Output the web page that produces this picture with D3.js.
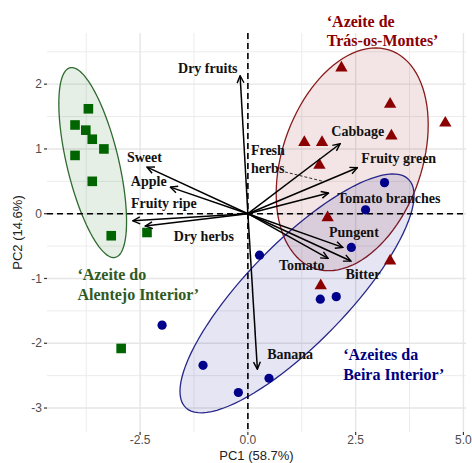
<html>
<head>
    <script src="https://d3js.org/d3.v7.min.js" charset="utf-8"></script>
    <style>
        body { margin: 0; background: #fff; }
    </style>
</head>

<body>
    <script type="text/javascript">
        var width = 472;
        var height = 463;

        var margin = {
            top: 33,
            right: 6,
            bottom: 31,
            left: 47
        };

        // PCA scores (PC1, PC2) per region
        var alentejoScores = [
            [-3.70, 1.62], [-4.01, 1.37], [-3.76, 1.29], [-3.61, 1.15], [-3.34, 1.00],
            [-4.01, 0.90], [-3.61, 0.50], [-3.17, -0.34], [-2.34, -0.29], [-2.94, -2.08]
        ];
        var beiraScores = [
            [3.17, 0.48], [2.73, 0.06], [2.40, -0.52], [0.27, -0.64], [1.68, -1.32],
            [2.05, -1.28], [-1.99, -1.72], [-1.04, -2.34], [0.49, -2.54], [-0.22, -2.76]
        ];
        var trasScores = [
            [2.17, 2.25], [3.30, 1.69], [4.58, 1.40], [3.33, 1.20], [1.31, 1.10],
            [1.72, 1.10], [1.66, 0.75], [1.85, -0.06], [3.30, -0.73], [1.69, -1.11]
        ];

        // group ellipses (Tras-os-Montes, Beira, Alentejo): centre, sd and correlation
        var ellipseMeanPC1 = [2.42, 1.14, -3.60];
        var ellipseMeanPC2 = [0.84, -1.23, 0.79];
        var ellipseSdPC1 = [1.095, 1.686, 0.488];
        var ellipseSdPC2 = [1.068, 1.145, 0.911];
        var ellipseRho = [0.31, 0.82, -0.62];
        var ellipseLevel = 0.68;

        // sensory attribute loadings (arrow tips)
        var attributes = ["Dry fruits", "Sweet", "Apple", "Fruity ripe", "Dry herbs", "Banana",
            "Cabbage", "Fruity green", "Tomato branches", "Pungent", "Bitter", "Tomato"];
        var loadPC1 = [-0.18, -2.34, -1.80, -2.67, -2.38, 0.22, 2.14, 2.54, 1.87, 2.20, 2.39, 1.86];
        var loadPC2 = [2.13, 0.72, 0.41, -0.11, -0.19, -2.40, 1.08, 0.71, 0.32, -0.52, -0.73, -0.69];

        // label centres for the attributes
        var labelPC1 = [-0.93, -2.40, -2.30, -1.95, -1.02, 0.98, 2.55, 3.50, 3.27, 2.46, 2.67, 1.25];
        var labelPC2 = [2.25, 0.87, 0.50, 0.16, -0.35, -2.16, 1.27, 0.86, 0.24, -0.28, -0.93, -0.79];

        // region labels (left aligned, first baseline)
        var regionLabels = [
            ["\u2018Azeite de", "Tr\u00e1s-os-Montes\u2019"],
            ["\u2018Azeites da", "Beira Interior\u2019"],
            ["\u2018Azeite do", "Alentejo Interior\u2019"]
        ];
        var regionLabelPC1 = [1.83, 2.21, -3.955];
        var regionLabelPC2 = [2.886, -2.264, -1.03];
        var regionColors = ["#8b0000", "#00007f", "#2f5a1f"];

        var xTicks = [-2.5, 0, 2.5, 5];
        var yTicks = [-3, -2, -1, 0, 1, 2];
        var xMinor = [-3.75, -1.25, 1.25, 3.75];
        var yMinor = [-2.5, -1.5, -0.5, 0.5, 1.5, 2.5];

        const svg = d3.select("body").append("svg")
            .attr("width", width)
            .attr("height", height);

        var xScale = d3.scaleLinear()
            .domain([-4.66, 5.06])
            .range([margin.left, width - margin.right]);

        var yScale = d3.scaleLinear()
            .domain([-3.37, 2.79])
            .range([height - margin.bottom, margin.top]);

        var x0 = margin.left, x1 = width - margin.right;
        var y0 = margin.top, y1 = height - margin.bottom;

        // grid
        var grid = svg.append("g");
        grid.selectAll(".vminor").data(xMinor).join("line")
            .attr("x1", d => xScale(d)).attr("x2", d => xScale(d))
            .attr("y1", y0).attr("y2", y1)
            .attr("stroke", "#ececec").attr("stroke-width", 1);
        grid.selectAll(".hminor").data(yMinor).join("line")
            .attr("y1", d => yScale(d)).attr("y2", d => yScale(d))
            .attr("x1", x0).attr("x2", x1)
            .attr("stroke", "#ececec").attr("stroke-width", 1);
        grid.selectAll(".vmajor").data(xTicks).join("line")
            .attr("x1", d => xScale(d)).attr("x2", d => xScale(d))
            .attr("y1", y0).attr("y2", y1)
            .attr("stroke", "#e6e6e6").attr("stroke-width", 1.4);
        grid.selectAll(".hmajor").data(yTicks).join("line")
            .attr("y1", d => yScale(d)).attr("y2", d => yScale(d))
            .attr("x1", x0).attr("x2", x1)
            .attr("stroke", "#e6e6e6").attr("stroke-width", 1.4);

        // normal ellipse at the given level (F quantile, n = 10)
        function ellipsePoints(i) {
            var d = 9;
            var qf = d / 2 * (Math.pow(1 - ellipseLevel, -2 / d) - 1);
            var radius = Math.sqrt(2 * qf);
            var sx = ellipseSdPC1[i], sy = ellipseSdPC2[i], r = ellipseRho[i];
            // cholesky of the covariance matrix
            var r11 = sx, r12 = r * sy, r22 = sy * Math.sqrt(1 - r * r);
            return d3.range(0, 101).map(k => {
                var t = k * 2 * Math.PI / 100;
                return [ellipseMeanPC1[i] + radius * Math.cos(t) * r11,
                        ellipseMeanPC2[i] + radius * (Math.cos(t) * r12 + Math.sin(t) * r22)];
            });
        }

        var ellipseFill = ["#8b0000", "#00008b", "#006400"];
        var ellipseStroke = ["#8b1a1a", "#27278a", "#2f6a2f"];

        var line = d3.line().x(d => xScale(d[0])).y(d => yScale(d[1]));

        svg.append("g").selectAll("path")
            .data(ellipseFill)
            .join("path")
                .attr("d", (d, i) => line(ellipsePoints(i)) + "Z")
                .attr("fill", d => d)
                .attr("fill-opacity", 0.1)
                .attr("stroke", (d, i) => ellipseStroke[i])
                .attr("stroke-width", 1.3);

        // zero lines
        svg.append("line")
            .attr("x1", x0).attr("x2", x1)
            .attr("y1", yScale(0)).attr("y2", yScale(0))
            .attr("stroke", "#000").attr("stroke-width", 1.6)
            .attr("stroke-dasharray", "6,4");
        svg.append("line")
            .attr("x1", xScale(0)).attr("x2", xScale(0))
            .attr("y1", y0).attr("y2", y1)
            .attr("stroke", "#000").attr("stroke-width", 1.6)
            .attr("stroke-dasharray", "6,4");

        // points
        var pts = svg.append("g");
        pts.selectAll(".sq").data(alentejoScores).join("rect")
            .attr("x", d => xScale(d[0]) - 4.8)
            .attr("y", d => yScale(d[1]) - 4.8)
            .attr("width", 9.6).attr("height", 9.6)
            .attr("fill", "#006400");
        pts.selectAll(".ci").data(beiraScores).join("circle")
            .attr("cx", d => xScale(d[0]))
            .attr("cy", d => yScale(d[1]))
            .attr("r", 4.6)
            .attr("fill", "#00008b");
        pts.selectAll(".tr").data(trasScores).join("path")
            .attr("d", d3.symbol(d3.symbolTriangle, 66))
            .attr("transform", d => "translate(" + xScale(d[0]) + "," + yScale(d[1]) + ")")
            .attr("fill", "#8b0000");

        // arrows
        svg.append("defs").append("marker")
            .attr("id", "head")
            .attr("viewBox", "0 0 10 10")
            .attr("refX", 9).attr("refY", 5)
            .attr("markerWidth", 9).attr("markerHeight", 9)
            .attr("markerUnits", "userSpaceOnUse")
            .attr("orient", "auto")
            .append("path")
                .attr("d", "M1,1.2L9,5L1,8.8")
                .attr("fill", "none")
                .attr("stroke", "#000")
                .attr("stroke-width", 1.6);

        svg.append("g").selectAll("line")
            .data(attributes)
            .join("line")
                .attr("x1", xScale(0)).attr("y1", yScale(0))
                .attr("x2", (d, i) => xScale(loadPC1[i]))
                .attr("y2", (d, i) => yScale(loadPC2[i]))
                .attr("stroke", "#000")
                .attr("stroke-width", 1.5)
                .attr("marker-end", "url(#head)");

        var serif = "'Liberation Serif', 'Times New Roman', serif";

        svg.append("g").selectAll("text")
            .data(attributes)
            .join("text")
                .attr("x", (d, i) => xScale(labelPC1[i]))
                .attr("y", (d, i) => yScale(labelPC2[i]))
                .attr("dy", "0.35em")
                .attr("text-anchor", "middle")
                .style("font-family", serif)
                .style("font-weight", "bold")
                .style("font-size", "14px")
                .attr("fill", "#111")
                .text(d => d);

        // Fresh herbs with dashed leader
        var fresh = svg.append("text")
            .attr("x", xScale(0.07))
            .attr("y", yScale(0.91))
            .style("font-family", serif)
            .style("font-weight", "bold")
            .style("font-size", "14px")
            .attr("fill", "#111");
        fresh.append("tspan").attr("x", xScale(0.07)).text("Fresh");
        fresh.append("tspan").attr("x", xScale(0.07)).attr("dy", 18.3).text("herbs");
        svg.append("line")
            .attr("x1", xScale(0.86)).attr("y1", yScale(0.645))
            .attr("x2", xScale(1.75)).attr("y2", yScale(0.50))
            .attr("stroke", "#000").attr("stroke-width", 0.8)
            .attr("stroke-dasharray", "3,2");

        // region labels
        regionLabels.forEach((lines, i) => {
            var t = svg.append("text")
                .attr("y", yScale(regionLabelPC2[i]))
                .style("font-family", serif)
                .style("font-weight", "bold")
                .style("font-size", "16px")
                .attr("fill", regionColors[i]);
            lines.forEach((s, j) => {
                t.append("tspan")
                    .attr("x", xScale(regionLabelPC1[i]))
                    .attr("dy", j === 0 ? 0 : 19.2)
                    .text(s);
            });
        });

        // axes
        var sans = "'Liberation Sans', Arial, sans-serif";
        svg.append("g").selectAll("line").data(xTicks).join("line")
            .attr("x1", d => xScale(d)).attr("x2", d => xScale(d))
            .attr("y1", y1).attr("y2", y1 + 3)
            .attr("stroke", "#333").attr("stroke-width", 1.2);
        svg.append("g").selectAll("line").data(yTicks).join("line")
            .attr("y1", d => yScale(d)).attr("y2", d => yScale(d))
            .attr("x1", x0 - 3).attr("x2", x0)
            .attr("stroke", "#333").attr("stroke-width", 1.2);

        svg.append("g").selectAll("text").data(xTicks).join("text")
            .attr("x", d => xScale(d))
            .attr("y", y1 + 12)
            .attr("text-anchor", "middle")
            .style("font-family", sans)
            .style("font-size", "12px")
            .attr("fill", "#4d4d4d")
            .text(d => d3.format(".1f")(d).replace("\u2212", "-"));
        svg.append("g").selectAll("text").data(yTicks).join("text")
            .attr("x", x0 - 5)
            .attr("y", d => yScale(d))
            .attr("dy", "0.35em")
            .attr("text-anchor", "end")
            .style("font-family", sans)
            .style("font-size", "12px")
            .attr("fill", "#4d4d4d")
            .text(d => String(d));

        svg.append("text")
            .attr("x", (x0 + x1) / 2)
            .attr("y", height - 3)
            .attr("text-anchor", "middle")
            .style("font-family", sans)
            .style("font-size", "13px")
            .attr("fill", "#222")
            .text("PC1 (58.7%)");
        svg.append("text")
            .attr("transform", "translate(22," + ((y0 + y1) / 2) + ") rotate(-90)")
            .attr("text-anchor", "middle")
            .style("font-family", sans)
            .style("font-size", "13px")
            .attr("fill", "#222")
            .text("PC2 (14.6%)");
    </script>
</body>
</html>
